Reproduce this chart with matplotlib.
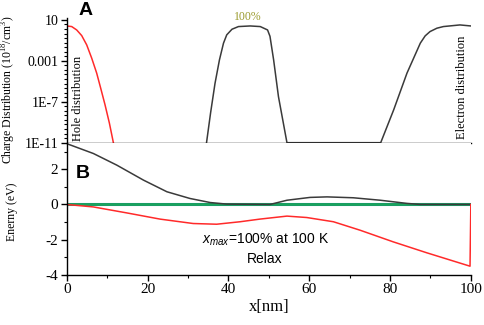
import numpy as np
import matplotlib
matplotlib.use("Agg")
import matplotlib.pyplot as plt
from matplotlib.ticker import FixedLocator, FixedFormatter, MultipleLocator

# ---- panel A: charge distribution (log10 of 1e18/cm^3) ----
hole_x = [0, 1.24, 2.47, 3.71, 4.95, 6.19, 7.42, 8.41, 9.48, 10.56, 11.55]
hole_log = [0.41, 0.35, 0.02, -0.53, -1.44, -2.74, -4.2, -5.67, -7.29, -9.08, -11.0]

elec_x = [34.6, 35.6, 36.7, 37.8, 38.8, 39.6, 40.9, 42.5, 45.4, 47.9, 49.7, 50.3,
          51.2, 52.4, 54.5, 77.7, 80.9, 84.2, 87.5, 88.7, 89.9, 91.6, 93.2, 97.3, 100]
elec_log = [-11.0, -8.1, -5.2, -2.9, -1.27, -0.46, 0.09, 0.35, 0.41, 0.35, 0.02, -0.6,
            -2.9, -6.5, -11.0, -11.0, -7.8, -4.2, -1.27, -0.56, -0.14, 0.19, 0.35, 0.51, 0.41]

# ---- panel B: band energies (eV) ----
cb_x = [0, 6.6, 12.4, 19, 24.8, 30.5, 35.5, 39.6, 50.3, 54.5, 60.2, 64.4, 70.9, 77.6, 84.2, 87.5, 100]
cb_e = [3.45, 2.89, 2.23, 1.38, 0.72, 0.34, 0.11, 0.02, 0.0, 0.24, 0.4, 0.43, 0.38, 0.24, 0.06, 0.0, 0.0]

vb_x = [0, 6.6, 14.9, 23.1, 31.3, 37.1, 42.9, 47.8, 54.5, 59.4, 66, 72.6, 80.8, 89.1, 99.8, 100]
vb_e = [0.0, -0.14, -0.48, -0.83, -1.08, -1.12, -0.98, -0.83, -0.66, -0.74, -0.98, -1.46, -2.12, -2.74, -3.5, 0.0]

fn_x = [0, 100]
fn_e = [0.02, 0.02]
fp_x = [0, 100]
fp_e = [0.0, 0.0]

serif = "Liberation Serif"
sans = "Liberation Sans"

plt.rcParams["axes.unicode_minus"] = False
plt.rcParams["mathtext.fontset"] = "custom"
plt.rcParams["mathtext.rm"] = serif
plt.rcParams["mathtext.it"] = sans + ":italic"

fig = plt.figure(figsize=(4.84, 3.25), dpi=100)
axA = fig.add_axes([0.1378, 0.561, 0.835, 0.384])
axB = fig.add_axes([0.1378, 0.1538, 0.835, 0.407])

# panel A
axA.plot(hole_x, 10 ** np.array(hole_log), color="#ff2a2a", lw=1.1)
axA.plot(elec_x, 10 ** np.array(elec_log), color="#3a3a3a", lw=1.1)
axA.set_yscale("log")
axA.set_xlim(0, 100)
axA.set_ylim(1e-11, 10 ** 1.2)
for s in ["top", "right"]:
    axA.spines[s].set_visible(False)
for s in ["left", "bottom"]:
    axA.spines[s].set_linewidth(1.0)
axA.set_xticks([])
maj = [1e-11, 1e-7, 1e-3, 10]
axA.yaxis.set_major_locator(FixedLocator(maj))
axA.yaxis.set_major_formatter(FixedFormatter(["1E-11", "1E-7", "0.001", "10"]))
axA.yaxis.set_minor_locator(FixedLocator(10 ** np.arange(-11, 1.01, 4 / 9)))
axA.yaxis.set_minor_formatter(FixedFormatter([]))
axA.tick_params(axis="y", which="major", direction="out", length=4, width=1.0,
                labelsize=10, pad=2)
axA.tick_params(axis="y", which="minor", direction="out", length=2, width=0.8)
for lab in axA.get_yticklabels():
    lab.set_fontfamily(serif)
axA.set_ylabel("Charge Distribution (10$^{18}$/cm$^{3}$)", fontfamily=serif,
               fontsize=8.5, labelpad=3)
axA.yaxis.set_label_coords(-0.12, 0.42)

axA.text(2.8, 1.4e-11, "Hole distribution", rotation=90, ha="center", va="bottom",
         fontfamily=serif, fontsize=9)
axA.text(97.8, 2.5e-11, "Electron distribution", rotation=90, ha="center", va="bottom",
         fontfamily=serif, fontsize=9)
axA.text(44.9, 10 ** 1.29, "100%", ha="center", va="center", color="#9b9b2e",
         fontfamily=serif, fontsize=8.5, clip_on=False)
axA.text(4.6, 10 ** 1.95, "A", ha="center", va="center", fontfamily=sans,
         fontweight="bold", fontsize=14, clip_on=False)

# panel B
axB.plot(fn_x, fn_e, color="#1f6fc4", lw=2.2)
axB.plot(fp_x, fp_e, color="#1aa35a", lw=2.0)
axB.plot(cb_x, cb_e, color="#3a3a3a", lw=1.1)
axB.plot(vb_x, vb_e, color="#ff2a2a", lw=1.1)
axB.set_xlim(0, 100)
axB.set_ylim(-4, 3.5)
for s in ["top", "right"]:
    axB.spines[s].set_visible(False)
for s in ["left", "bottom"]:
    axB.spines[s].set_linewidth(1.0)
axB.xaxis.set_major_locator(MultipleLocator(20))
axB.xaxis.set_minor_locator(MultipleLocator(10))
axB.yaxis.set_major_locator(FixedLocator([-4, -2, 0, 2]))
axB.yaxis.set_minor_locator(FixedLocator([-3, -1, 1, 3]))
axB.tick_params(which="major", direction="out", length=4, width=1.0, labelsize=11, pad=2)
axB.tick_params(which="minor", direction="out", length=2, width=0.8)
for lab in axB.get_xticklabels() + axB.get_yticklabels():
    lab.set_fontfamily(serif)
axB.set_ylabel("Enerny (eV)", fontfamily=serif, fontsize=8.5)
axB.yaxis.set_label_coords(-0.12, 0.48)
axB.set_xlabel("x[nm]", fontfamily=serif, fontsize=12, labelpad=2)

axB.text(3.9, 1.77, "B", ha="center", va="center", fontfamily=sans,
         fontweight="bold", fontsize=14)
axB.text(49.1, -1.98, "$x_{max}$=100% at 100 K", ha="center", va="center",
         fontfamily=sans, fontsize=10)
axB.text(49.0, -3.12, "Relax", ha="center", va="center", fontfamily=sans, fontsize=10)

fig.savefig("out.png", dpi=100)
